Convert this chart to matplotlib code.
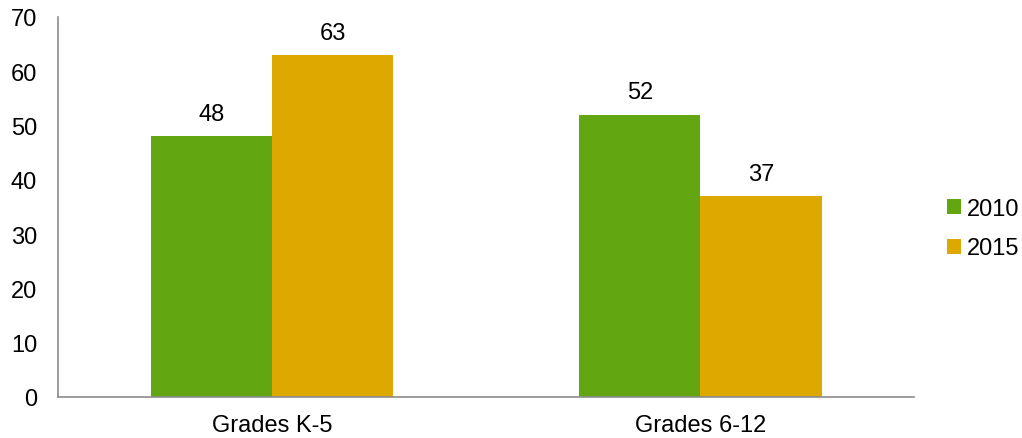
import numpy as np
import matplotlib.pyplot as plt

plt.rcParams['font.family'] = ['Liberation Sans', 'DejaVu Sans']

categories = ['Grades K-5', 'Grades 6-12']
series_names = ['2010', '2015']
values_2010 = [48, 52]
values_2015 = [63, 37]
colors = ['#62A712', '#DDA900']

fig = plt.figure(figsize=(10.22, 4.39), dpi=100)
ax = fig.add_axes([0.0568, 0.0934, 0.838, 0.866])

x = np.arange(len(categories))
w = 0.283
b1 = ax.bar(x - w / 2, values_2010, w, color=colors[0], label=series_names[0])
b2 = ax.bar(x + w / 2, values_2015, w, color=colors[1], label=series_names[1])

for bars in (b1, b2):
    for rect in bars:
        h = rect.get_height()
        ax.annotate(f'{h:g}', (rect.get_x() + rect.get_width() / 2, h),
                    xytext=(0, 8), textcoords='offset points',
                    ha='center', va='bottom', fontsize=17)

ax.set_xlim(-0.5, 1.5)
ax.set_ylim(0, 70)
ax.set_yticks(range(0, 71, 10))
ax.set_xticks(x)
ax.set_xticklabels(categories)
ax.tick_params(length=0, labelsize=17)
ax.tick_params(axis='y', pad=15)
ax.tick_params(axis='x', pad=12)
for s in ('top', 'right'):
    ax.spines[s].set_visible(False)
for s in ('left', 'bottom'):
    ax.spines[s].set_color('#8C8C8C')
    ax.spines[s].set_linewidth(1.2)

ax.legend(loc='center left', bbox_to_anchor=(1.038, 0.443), frameon=False,
          fontsize=17, handlelength=0.6, handleheight=0.6, handletextpad=0.25,
          labelspacing=0.75, borderpad=0, borderaxespad=0)

fig.savefig('out.png', dpi=100)
